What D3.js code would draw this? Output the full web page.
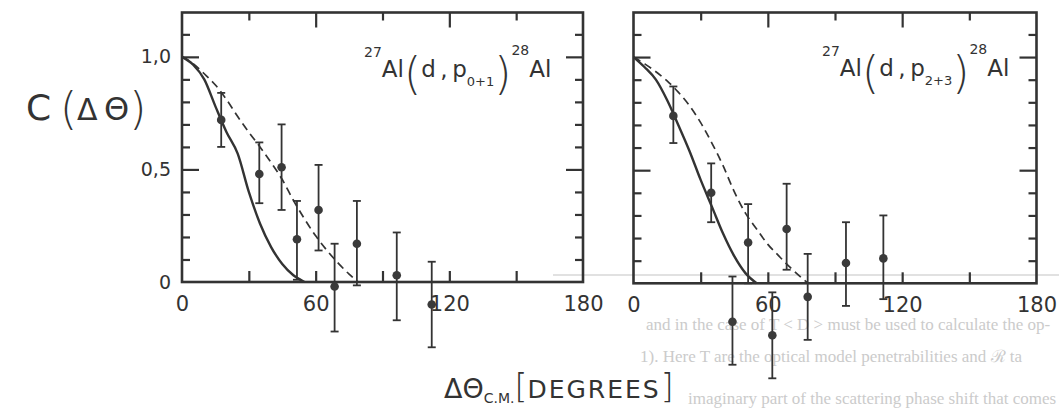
<!DOCTYPE html>
<html>
<head>
<meta charset="utf-8">
<script src="https://cdn.jsdelivr.net/npm/d3@7"></script>
<style>
  html, body { margin: 0; padding: 0; background: #fff; }
  svg { display: block; }
  text { font-family: "DejaVu Sans", sans-serif; fill: #333; }
  .ghost { font-family: "Liberation Serif", serif; fill: #cbcbcb; }
</style>
</head>
<body>
<svg id="chart" width="1059" height="412"></svg>
<script>
// Angular correlation C(Δθ) for 27Al(d,p)28Al, two proton groups.

// axis ticks
const angleTicks = [0, 60, 120, 180];
const angleTickLabels = ["0", "60", "120", "180"];
const angleMinorTicks = [30, 60, 90, 120, 150];
const cTicks = [0, 0.5, 1.0];
const cTickLabels = ["0", "0,5", "1,0"];
const cMinorTicks = [0.1, 0.2, 0.3, 0.4, 0.5, 0.6, 0.7, 0.8, 0.9, 1.0, 1.1];

// theory curves, p0+1
const solidAnglesP01 = [0, 5, 10, 15, 20, 25, 30, 35, 40, 45, 50, 55];
const solidP01 = [1.0, 0.965, 0.90, 0.78, 0.665, 0.57, 0.40, 0.26, 0.155, 0.08, 0.03, 0.0];
const dashedAnglesP01 = [0, 5, 10, 15, 20, 25, 30, 35, 40, 45, 50, 55, 60, 65, 70, 75, 79];
const dashedP01 = [1.0, 0.97, 0.925, 0.875, 0.81, 0.735, 0.665, 0.60, 0.53, 0.455, 0.363, 0.28, 0.205, 0.141, 0.085, 0.035, 0.0];

// theory curves, p2+3
const solidAnglesP23 = [0, 5, 10, 15, 20, 25, 30, 35, 40, 45, 50, 55];
const solidP23 = [1.0, 0.955, 0.90, 0.81, 0.70, 0.585, 0.457, 0.339, 0.22, 0.12, 0.045, 0.0];
const dashedAnglesP23 = [0, 5, 10, 15, 20, 25, 30, 35, 40, 45, 50, 55, 60, 65, 70, 75, 78];
const dashedP23 = [1.0, 0.97, 0.935, 0.895, 0.845, 0.785, 0.71, 0.62, 0.52, 0.405, 0.31, 0.24, 0.172, 0.12, 0.07, 0.025, 0.0];

// measured correlations, p0+1
const angleP01 = [17.6, 34.7, 44.7, 51.6, 61.3, 68.5, 78.5, 96.4, 112.1];
const valueP01 = [0.72, 0.48, 0.51, 0.19, 0.32, -0.02, 0.17, 0.03, -0.10];
const lowP01   = [0.60, 0.35, 0.32, 0.01, 0.14, -0.22, -0.015, -0.17, -0.29];
const highP01  = [0.84, 0.62, 0.70, 0.36, 0.52, 0.17, 0.36, 0.22, 0.09];

// measured correlations, p2+3
const angleP23 = [17.8, 34.7, 44.2, 51.2, 62.0, 68.4, 77.8, 94.9, 111.6];
const valueP23 = [0.74, 0.40, -0.17, 0.18, -0.23, 0.24, -0.06, 0.09, 0.11];
const lowP23   = [0.62, 0.27, -0.36, 0.0, -0.42, 0.06, -0.25, -0.10, -0.07];
const highP23  = [0.87, 0.53, 0.03, 0.35, -0.04, 0.44, 0.13, 0.27, 0.30];

const ink = "#333";
const svg = d3.select("#chart");
svg.append("rect").attr("width", 1059).attr("height", 412).attr("fill", "#fff");

// faint show-through of the facing page
const ghost = svg.append("g");
[["and in the case of  T    < D    >  must be used to calculate the op-", 646, 330],
 ["1).  Here  T    are the optical model penetrabilities and  \u211B    ta", 640, 362],
 ["imaginary part of the          scattering phase shift that comes", 688, 404]]
  .forEach(([t, x, y]) => ghost.append("text").attr("class", "ghost")
    .attr("x", x).attr("y", y).style("font-size", "17px").text(t));
svg.append("line").attr("x1", 553).attr("x2", 1059).attr("y1", 275).attr("y2", 275)
  .attr("stroke", "#c4c4c4").attr("stroke-width", 1.2);

const panels = [
  { x0: 182, x1: 583, yBottom: 282, yTop: 12.5, showY: true, sub: "0+1",
    solid: [solidAnglesP01, solidP01], dashed: [dashedAnglesP01, dashedP01],
    pts: [angleP01, valueP01, lowP01, highP01], labelX: 364, labelY: 77 },
  { x0: 633.5, x1: 1036.5, yBottom: 283.3, yTop: 12.5, showY: false, sub: "2+3",
    solid: [solidAnglesP23, solidP23], dashed: [dashedAnglesP23, dashedP23],
    pts: [angleP23, valueP23, lowP23, highP23], labelX: 822, labelY: 76 }
];

panels.forEach(p => {
  const x = d3.scaleLinear().domain([0, 180]).range([p.x0, p.x1]);
  const unit = (p.yBottom - p.yTop) / 1.197;
  const y = d3.scaleLinear().domain([0, 1]).range([p.yBottom, p.yBottom - unit]);
  const g = svg.append("g");

  // inward ticks on all four sides
  const minorY = cMinorTicks.filter(v => v !== 0.5 && v !== 1.0);
  const majorY = [0.5, 1.0];
  const tickAxis = (axisFn, scale, vals, size, tx, ty) => {
    const a = g.append("g").attr("transform", `translate(${tx},${ty})`)
      .call(axisFn(scale).tickValues(vals).tickSizeInner(size).tickSizeOuter(0).tickFormat(""));
    a.select(".domain").remove();
    a.selectAll("line").attr("stroke", ink).attr("stroke-width", 2.2);
  };
  tickAxis(d3.axisLeft, y, minorY, -8, p.x0, 0);
  tickAxis(d3.axisLeft, y, majorY, -17, p.x0, 0);
  tickAxis(d3.axisRight, y, minorY, -8, p.x1, 0);
  tickAxis(d3.axisRight, y, majorY, -17, p.x1, 0);
  tickAxis(d3.axisTop, x, [30, 90, 150], -8, 0, p.yTop);
  tickAxis(d3.axisTop, x, [60, 120], -15, 0, p.yTop);
  tickAxis(d3.axisBottom, x, angleMinorTicks, -11, 0, p.yBottom);

  // frame
  g.append("rect").attr("x", p.x0).attr("y", p.yTop)
    .attr("width", p.x1 - p.x0).attr("height", p.yBottom - p.yTop)
    .attr("fill", "none").attr("stroke", ink).attr("stroke-width", 2.6);

  // tick labels
  const xl = g.append("g").attr("transform", `translate(0,${p.yBottom + 6})`)
    .call(d3.axisBottom(x).tickValues(angleTicks).tickSize(0)
      .tickFormat((d, i) => angleTickLabels[i]));
  xl.select(".domain").remove();
  xl.selectAll("text").style("font-size", "21px").attr("fill", ink).attr("dy", "0.95em");

  if (p.showY) {
    const yl = g.append("g").attr("transform", `translate(${p.x0 - 8},0)`)
      .call(d3.axisLeft(y).tickValues(cTicks).tickSize(0)
        .tickFormat((d, i) => cTickLabels[i]));
    yl.select(".domain").remove();
    yl.selectAll("text").style("font-size", "19px").attr("fill", ink);
  }

  // theory curves
  const line = d3.line().x(d => x(d[0])).y(d => y(d[1])).curve(d3.curveMonotoneX);
  g.append("path").datum(d3.zip(p.solid[0], p.solid[1])).attr("d", line)
    .attr("fill", "none").attr("stroke", ink).attr("stroke-width", 2.4);
  g.append("path").datum(d3.zip(p.dashed[0], p.dashed[1])).attr("d", line)
    .attr("fill", "none").attr("stroke", ink).attr("stroke-width", 1.7)
    .attr("stroke-dasharray", "8,5");

  // data with error bars
  const pts = d3.zip(...p.pts);
  const eb = g.append("g").selectAll("g").data(pts).join("g");
  eb.append("line").attr("x1", d => x(d[0])).attr("x2", d => x(d[0]))
    .attr("y1", d => y(d[2])).attr("y2", d => y(d[3]))
    .attr("stroke", ink).attr("stroke-width", 1.8);
  [2, 3].forEach(k => eb.append("line")
    .attr("x1", d => x(d[0]) - 4).attr("x2", d => x(d[0]) + 4)
    .attr("y1", d => y(d[k])).attr("y2", d => y(d[k]))
    .attr("stroke", ink).attr("stroke-width", 1.8));
  eb.append("circle").attr("cx", d => x(d[0])).attr("cy", d => y(d[1]))
    .attr("r", 4.3).attr("fill", "#3a3a3a");

  // reaction label
  const t = g.append("text").attr("x", p.labelX).attr("y", p.labelY).style("font-size", "23px");
  t.append("tspan").text("27").style("font-size", "14px").attr("dy", -20);
  t.append("tspan").text("Al").attr("dy", 20);
  t.append("tspan").text("(").style("font-size", "44px").style("font-weight", 200).attr("dy", 12);
  t.append("tspan").text("d\u2009,\u2009p").attr("dy", -12);
  t.append("tspan").text(p.sub).style("font-size", "13px").attr("dy", 9);
  t.append("tspan").text(")").style("font-size", "44px").style("font-weight", 200).attr("dy", 3);
  t.append("tspan").text("28").style("font-size", "14px").attr("dy", -34);
  t.append("tspan").text("Al").attr("dy", 22);
});

// y-axis title C(ΔΘ)
const yt = svg.append("text").attr("x", 26).attr("y", 120).style("font-size", "36px");
yt.append("tspan").text("C");
yt.append("tspan").text("\u2009(").style("font-size", "44px").style("font-weight", 200).attr("dy", 4);
yt.append("tspan").text("\u0394").style("font-size", "30px").attr("dy", -4);
yt.append("tspan").text("\u2009\u0398").style("font-size", "32px");
yt.append("tspan").text(")").style("font-size", "44px").style("font-weight", 200).attr("dy", 4);

// x-axis title ΔΘ_C.M.[DEGREES]
const xt = svg.append("text").attr("x", 444).attr("y", 398).style("font-size", "25px");
xt.append("tspan").text("\u0394\u0398").style("font-size", "27px");
xt.append("tspan").text("C.M.").style("font-size", "14px").attr("dy", 5);
xt.append("tspan").text("[").style("font-size", "33px").style("font-weight", 200).attr("dy", -5);
xt.append("tspan").text("DEGREES").style("letter-spacing", "2px");
xt.append("tspan").text("]").style("font-size", "33px").style("font-weight", 200);
</script>
</body>
</html>
